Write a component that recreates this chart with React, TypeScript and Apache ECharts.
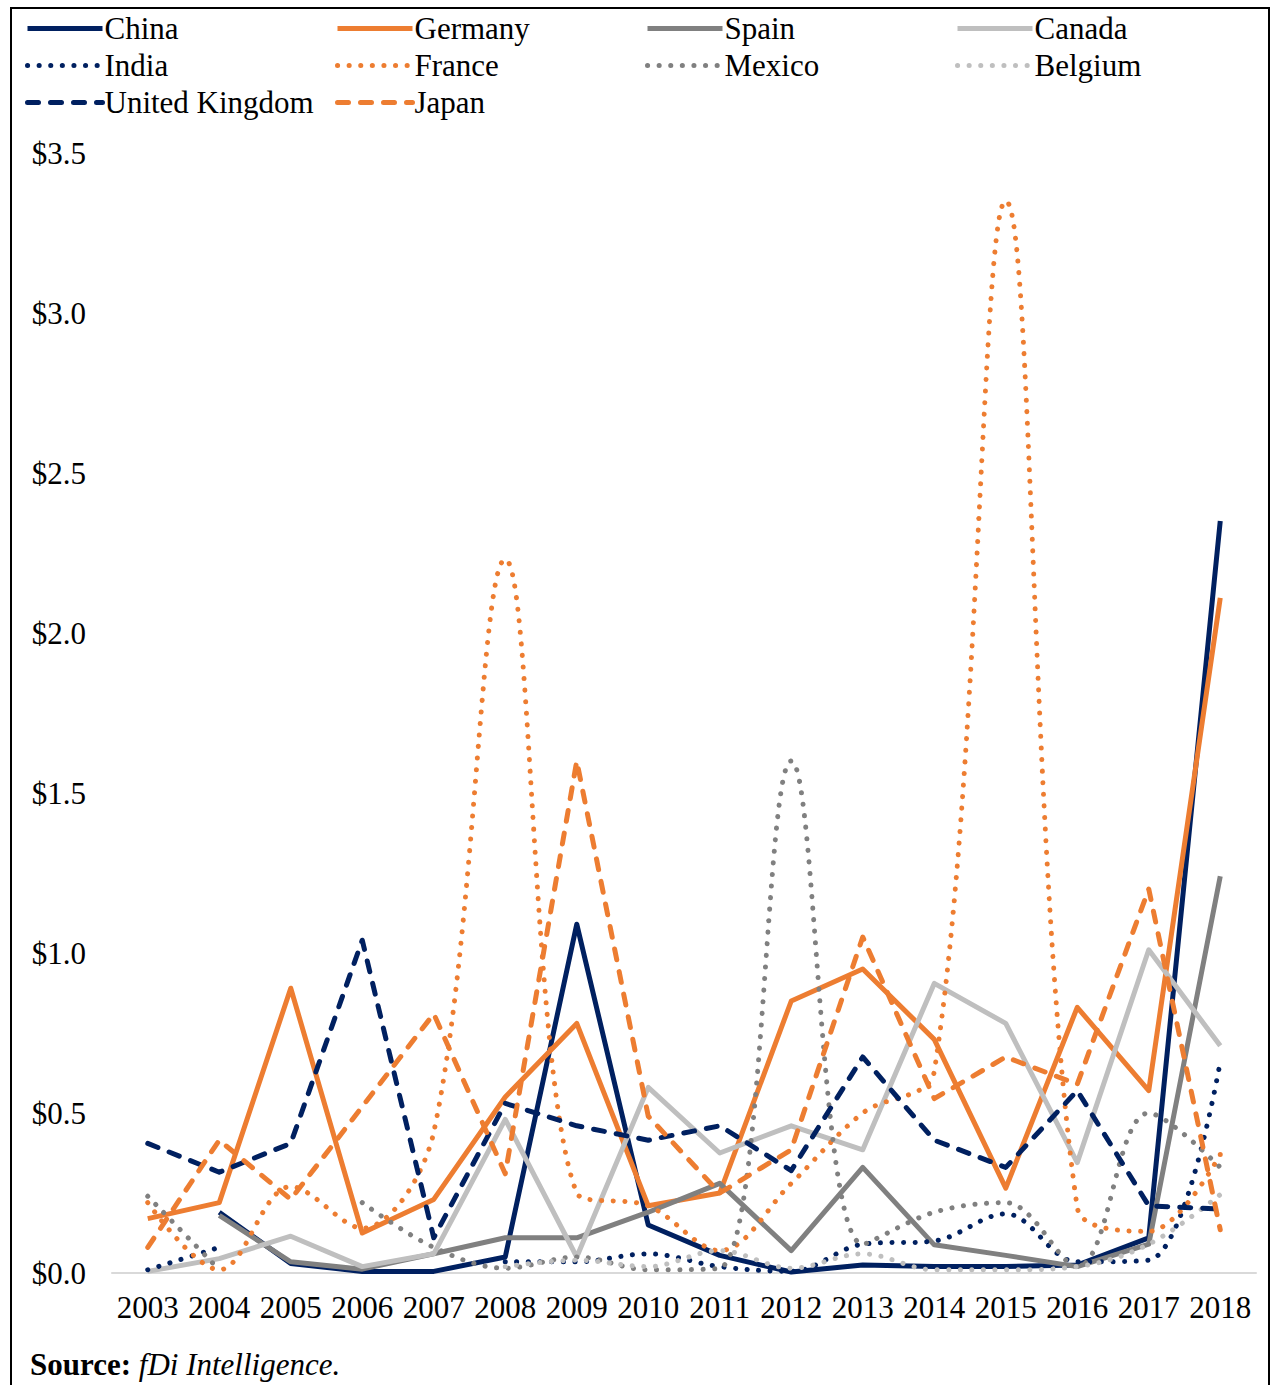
import React, { useEffect, useRef } from "react";
import * as echarts from "echarts";

const years = ["2003", "2004", "2005", "2006", "2007", "2008", "2009", "2010", "2011", "2012", "2013", "2014", "2015", "2016", "2017", "2018"];

const china = [null, 0.19, 0.03, 0.005, 0.005, 0.05, 1.09, 0.15, 0.055, 0.003, 0.025, 0.02, 0.02, 0.025, 0.11, 2.35];
const germany = [0.17, 0.22, 0.89, 0.125, 0.23, 0.55, 0.78, 0.21, 0.25, 0.85, 0.95, 0.73, 0.265, 0.83, 0.57, 2.11];
const spain = [null, 0.18, 0.035, 0.012, 0.06, 0.11, 0.11, 0.19, 0.28, 0.07, 0.33, 0.088, 0.055, 0.02, 0.09, 1.24];
const canada = [0.005, 0.045, 0.115, 0.02, 0.06, 0.48, 0.05, 0.58, 0.375, 0.46, 0.385, 0.905, 0.78, 0.345, 1.01, 0.71];
const india = [0.01, 0.08, null, null, null, 0.035, 0.035, 0.06, 0.02, 0.005, 0.09, 0.1, 0.185, 0.035, 0.04, 0.66];
const france = [0.22, 0.01, 0.27, 0.14, 0.44, 2.23, 0.25, 0.21, 0.07, 0.28, 0.5, 0.63, 3.35, 0.205, 0.13, 0.37];
const mexico = [0.24, 0.01, null, 0.22, 0.08, 0.015, 0.05, 0.01, 0.015, 1.6, 0.09, 0.19, 0.22, 0.02, 0.5, 0.33];
const belgium = [null, null, null, null, null, 0.02, 0.04, 0.02, 0.07, 0.015, 0.06, 0.01, 0.01, 0.02, 0.09, 0.245];
const unitedKingdom = [0.405, 0.315, 0.405, 1.04, 0.11, 0.53, 0.46, 0.415, 0.46, 0.32, 0.675, 0.415, 0.33, 0.57, 0.21, 0.2];
const japan = [0.08, 0.415, 0.23, 0.52, 0.81, 0.31, 1.6, 0.49, 0.25, 0.385, 1.05, 0.545, 0.675, 0.59, 1.2, 0.135];

const NAVY = "#002060";
const ORANGE = "#ED7D31";
const GRAY = "#808080";
const LIGHT = "#BFBFBF";

const FONT = "'Liberation Serif', 'Times New Roman', serif";

type Kind = "solid" | "dot" | "dash";

const seriesDefs: { name: string; data: (number | null)[]; color: string; kind: Kind }[] = [
  { name: "China", data: china, color: NAVY, kind: "solid" },
  { name: "Germany", data: germany, color: ORANGE, kind: "solid" },
  { name: "Spain", data: spain, color: GRAY, kind: "solid" },
  { name: "Canada", data: canada, color: LIGHT, kind: "solid" },
  { name: "India", data: india, color: NAVY, kind: "dot" },
  { name: "France", data: france, color: ORANGE, kind: "dot" },
  { name: "Mexico", data: mexico, color: GRAY, kind: "dot" },
  { name: "Belgium", data: belgium, color: LIGHT, kind: "dot" },
  { name: "United Kingdom", data: unitedKingdom, color: NAVY, kind: "dash" },
  { name: "Japan", data: japan, color: ORANGE, kind: "dash" },
];

const LW = 5;

function lineStyleFor(kind: Kind, color: string) {
  return {
    color,
    width: LW,
    type: kind === "solid" ? "solid" : kind === "dot" ? [0.1, 11.5] : [11, 12],
    cap: kind === "solid" ? "butt" : "round",
    join: "round",
    opacity: 1,
  };
}

export default function App() {
  const ref = useRef<HTMLDivElement>(null);
  useEffect(() => {
    if (!ref.current) return;
    const chart = echarts.init(ref.current, undefined, { renderer: "svg" });

    const series = seriesDefs.map((s) => ({
      name: s.name,
      type: "line",
      data: s.data,
      symbol: "none",
      showSymbol: false,
      connectNulls: false,
      smooth: s.kind === "dot" ? 0.35 : false,
      lineStyle: lineStyleFor(s.kind, s.color),
      itemStyle: { color: s.color },
      emphasis: { disabled: true },
    }));

    const legends = seriesDefs.map((s, i) => {
      const col = i < 8 ? i % 4 : i - 8;
      const row = i < 8 ? Math.floor(i / 4) : 2;
      return {
        show: true,
        data: [s.name],
        left: 25 + col * 310,
        top: 13 + row * 37,
        itemWidth: 75,
        itemHeight: 30,
        itemGap: 0,
        padding: 0,
        selectedMode: false,
        itemStyle: { opacity: 0 },
        lineStyle: lineStyleFor(s.kind, s.color),
        textStyle: { fontFamily: FONT, fontSize: 31, color: "#000", padding: [0, 0, 0, -3] },
      };
    });

    chart.setOption({
      animation: false,
      backgroundColor: "#fff",
      legend: legends,
      grid: { left: 112, right: 16, top: 153, bottom: 112, containLabel: false },
      xAxis: {
        type: "category",
        data: years,
        boundaryGap: true,
        axisLine: { show: true, lineStyle: { color: "#d9d9d9", width: 2 } },
        axisTick: { show: false },
        axisLabel: { fontFamily: FONT, fontSize: 31, color: "#000", margin: 19, interval: 0 },
        splitLine: { show: false },
      },
      yAxis: {
        type: "value",
        min: 0,
        max: 3.5,
        interval: 0.5,
        axisLine: { show: false },
        axisTick: { show: false },
        splitLine: { show: false },
        axisLabel: {
          fontFamily: FONT,
          fontSize: 31,
          color: "#000",
          margin: 26,
          formatter: (v: number) => "$" + v.toFixed(1),
        },
      },
      series,
      graphic: [
        {
          type: "rect",
          silent: true,
          shape: { x: 11, y: 8, width: 1258, height: 1400 },
          style: { fill: "none", stroke: "#000", lineWidth: 2 },
        },
        {
          type: "text",
          left: 30,
          top: 1349,
          style: {
            text: "{b|Source:} {i|fDi Intelligence.}",
            fill: "#000",
            font: `31px ${FONT}`,
            rich: {
              b: { fontFamily: FONT, fontSize: 31, fontWeight: "bold", fill: "#000" },
              i: { fontFamily: FONT, fontSize: 31, fontStyle: "italic", fill: "#000" },
            },
          },
        },
      ],
    });
    return () => chart.dispose();
  }, []);
  return (
    <div
      ref={ref}
      style={{ position: "fixed", left: 0, top: 0, width: 1272, height: 1385, background: "#fff" }}
    />
  );
}
